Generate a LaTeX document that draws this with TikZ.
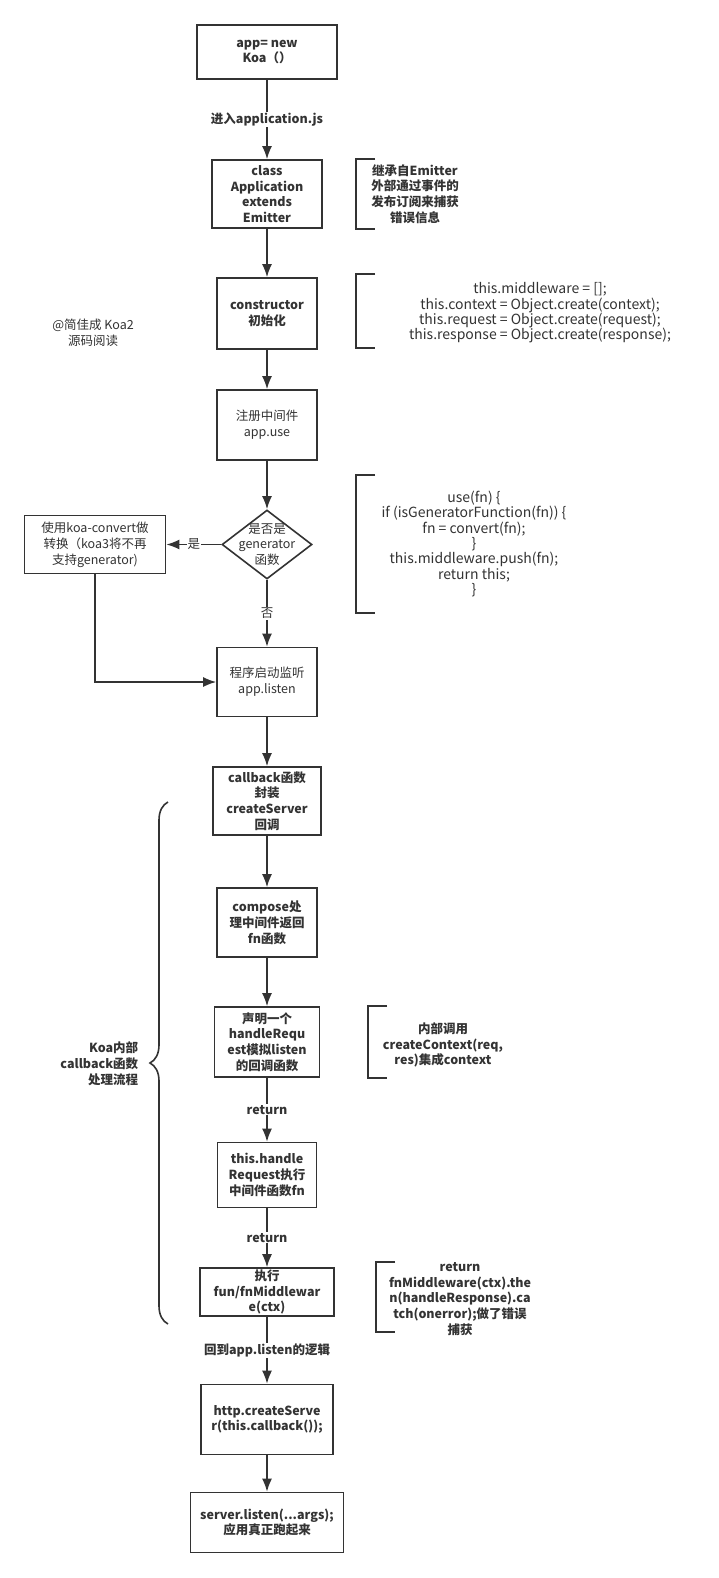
\documentclass[tikz,border=0pt]{standalone}
\usepackage{fontspec}
\setmainfont{Noto Sans CJK SC}
\usetikzlibrary{arrows.meta,shapes.geometric,decorations.pathreplacing}
\definecolor{ink}{HTML}{333333}
\newcommand{\boxfont}{\fontsize{12.5pt}{15.8pt}\selectfont}
\newcommand{\codefont}{\fontsize{14pt}{15.3pt}\selectfont}
\tikzstyle{block} = [rectangle, draw, line width=1.6pt, align=center,
    inner sep=0pt, font=\boxfont\bfseries]
\tikzstyle{plain} = [block, font=\boxfont]
\tikzstyle{decision} = [diamond, draw, line width=1.6pt, align=center,
    inner sep=-8pt, minimum width=90pt, minimum height=69pt, font=\boxfont]
\tikzstyle{note} = [inner sep=0pt]
\tikzstyle{notetext} = [align=center, inner sep=0pt, font=\boxfont\bfseries]
\tikzstyle{codetext} = [notetext, font=\codefont]
\tikzstyle{lbl} = [fill=white, inner sep=1pt, font=\boxfont\bfseries]
\begin{document}
\begin{tikzpicture}[->,>={Latex[length=13pt,width=10pt]},x=1pt,y=-1pt,
                    color=ink,line width=1.6pt,node distance=120pt]
  \fill[white] (0,0) rectangle (719,1578);
  \useasboundingbox (0,0) rectangle (719,1578);

  \node[block, minimum width=140pt, minimum height=54pt] (app) at (267,52) {app= new\\Koa（）};
  \node[block, minimum width=110pt, minimum height=68pt, node distance=142pt, below of=app] (cls) {class\\Application\\extends\\Emitter};
  \node[block, minimum width=100pt, minimum height=71pt, node distance=119.5pt, below of=cls] (ctor) {constructor\\初始化};
  \node[plain, minimum width=100pt, minimum height=70pt, node distance=111.5pt, below of=ctor] (use) {注册中间件\\app.use};
  \node[decision, node distance=119.5pt, below of=use] (dec) {是否是\\generator\\函数};
  \node[plain, minimum width=141pt, minimum height=58pt, node distance=172pt, left of=dec] (conv) {使用koa-convert做\\转换（koa3将不再\\支持generator)};
  \node[plain, minimum width=100pt, minimum height=69pt, node distance=137.5pt, below of=dec] (listen) {程序启动监听\\app.listen};
  \node[block, minimum width=108pt, minimum height=68pt, node distance=119pt, below of=listen] (cb) {callback函数\\封装\\createServer\\回调};
  \node[block, minimum width=100pt, minimum height=69pt, node distance=121.5pt, below of=cb] (comp) {compose处\\理中间件返回\\fn函数};
  \node[block, minimum width=105pt, minimum height=70pt, node distance=119.5pt, below of=comp] (req) {声明一个\\handleRequ\\est模拟listen\\的回调函数};
  \node[block, minimum width=99pt, minimum height=65pt, node distance=133pt, below of=req] (exec) {this.handle\\Request执行\\中间件函数fn};
  \node[block, minimum width=134pt, minimum height=48pt, node distance=117pt, below of=exec] (mw) {执行\\fun/fnMiddlewar\\e(ctx)};
  \node[block, minimum width=132pt, minimum height=70pt, node distance=127.5pt, below of=mw] (srv) {http.createServe\\r(this.callback());};
  \node[block, minimum width=153pt, minimum height=60pt, node distance=103pt, below of=srv] (run) {server.listen(...args);\\应用真正跑起来};

  % side notes, bracket on the left
  \node[note, minimum width=116pt, minimum height=68pt, label={[notetext]center:{继承自Emitter\\外部通过事件的\\发布订阅来捕获\\错误信息}}] (n1) at (415,194) {};
  \node[note, minimum width=366pt, minimum height=72pt, label={[codetext, yshift=-2pt]center:{this.middleware = [];\\this.context = Object.create(context);\\this.request = Object.create(request);\\this.response = Object.create(response);}}] (n2) at (540,311) {};
  \node[note, minimum width=234pt, minimum height=136pt, label={[codetext]center:{use(fn) \{\\if (isGeneratorFunction(fn)) \{\\fn = convert(fn);\\\}\\this.middleware.push(fn);\\return this;\\\}}}] (n3) at (474,544) {};
  \node[note, minimum width=148pt, minimum height=70pt, label={[notetext, yshift=-3pt]center:{内部调用\\createContext(req,\\res)集成context}}] (n4) at (443,1042) {};
  \node[note, minimum width=166pt, minimum height=68pt, label={[notetext, yshift=-2pt]center:{return\\fnMiddleware(ctx).the\\n(handleResponse).ca\\tch(onerror);做了错误\\捕获}}] (n5) at (460,1297) {};
  \foreach \n in {n1,n2,n3,n4,n5}
    \draw[-] ([xshift=19pt]\n.north west) -- (\n.north west) -- (\n.south west) -- ([xshift=19pt]\n.south west);

  \node[notetext, font=\boxfont] (sign) at (93,333) {@简佳成 Koa2\\源码阅读};

  % callback group
  \draw[-, decorate, decoration={brace, amplitude=18pt}] (168,1324) -- (168,802);
  \node[notetext, align=right, anchor=east] (grp) at (139,1064) {Koa内部\\callback函数\\处理流程};

  \path (app)    edge node[lbl] {进入application.js} (cls)
        (cls)    edge (ctor)
        (ctor)   edge (use)
        (use)    edge (dec)
        (dec)    edge node[lbl, font=\boxfont] {是} (conv)
        (dec)    edge node[lbl, font=\boxfont] {否} (listen)
        (listen) edge (cb)
        (cb)     edge (comp)
        (comp)   edge (req)
        (req)    edge node[lbl] {return} (exec)
        (exec)   edge node[lbl] {return} (mw)
        (mw)     edge node[lbl] {回到app.listen的逻辑} (srv)
        (srv)    edge (run);
  \draw (conv) |- (listen);
\end{tikzpicture}
\end{document}
